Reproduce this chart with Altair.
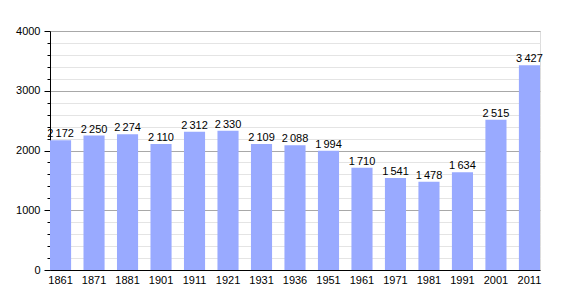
import altair as alt
import pandas as pd

years = ["1861", "1871", "1881", "1901", "1911", "1921", "1931", "1936",
         "1951", "1961", "1971", "1981", "1991", "2001", "2011"]
population = [2172, 2250, 2274, 2110, 2312, 2330, 2109, 2088,
              1994, 1710, 1541, 1478, 1634, 2515, 3427]

df = pd.DataFrame({"year": years, "pop": population})
df["label"] = [f"{v:,}".replace(",", "\u2009") for v in population]

font = "Liberation Sans"

x = alt.X("year:N", sort=years,
          scale=alt.Scale(paddingInner=0.37, paddingOuter=0),
          axis=alt.Axis(title=None, labelAngle=0, ticks=False, domainColor="black",
                        labelFontSize=11, labelColor="black", labelFont=font,
                        labelPadding=4, grid=False))

y = alt.Y("pop:Q", scale=alt.Scale(domain=[0, 4000], nice=False),
          axis=alt.Axis(title=None, values=list(range(0, 4001, 200)),
                        labelExpr="datum.value % 1000 === 0 ? datum.label : ''",
                        format="d",
                        gridColor=alt.ExprRef("datum.value % 1000 === 0 ? '#a8a8a8' : '#e4e4e4'"),
                        tickSize=alt.ExprRef("datum.value % 1000 === 0 ? 6 : 3"),
                        tickColor="black", domainColor="black",
                        labelFontSize=11, labelColor="black", labelFont=font,
                        labelPadding=4))

bars = alt.Chart(df).mark_bar(color="#99aaff").encode(x=x, y=y)
text = alt.Chart(df).mark_text(baseline="bottom", dy=-1, fontSize=11, font=font,
                               color="black").encode(x=x, y=y, text="label:N")

chart = (bars + text).properties(
    width=490, height=239,
    autosize=alt.AutoSizeParams(type="none"),
    padding={"left": 50, "top": 31, "right": 30, "bottom": 30},
).configure_view(stroke=None).configure(background="white")

chart.save("out.html", embed_options={"renderer": "svg", "actions": False})
